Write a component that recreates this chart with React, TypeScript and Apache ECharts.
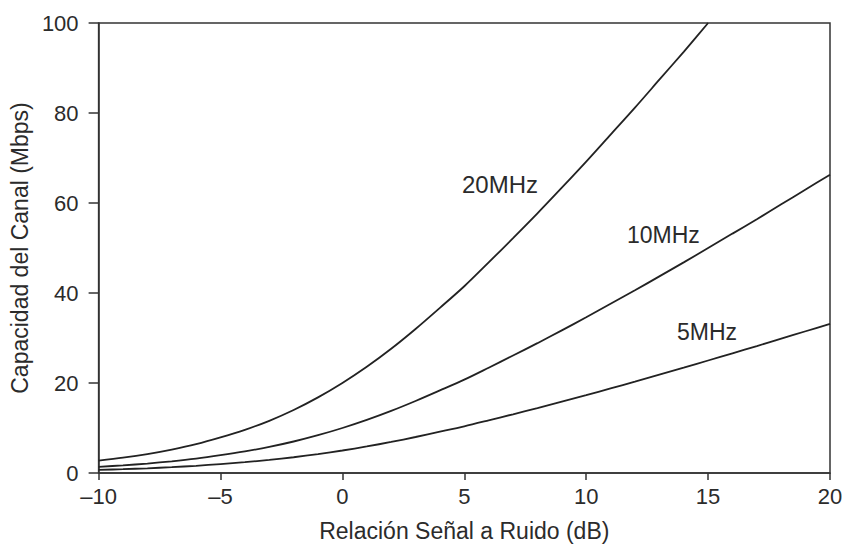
import React, { useEffect, useRef } from "react";
import * as echarts from "echarts";

const snr = [-10, -9, -8, -7, -6, -5, -4, -3, -2, -1, 0, 1, 2, 3, 4, 5, 6, 7, 8, 9, 10, 11, 12, 13, 14, 15, 16, 17, 18, 19, 20];
const cap20 = [2.75, 3.4, 4.2, 5.2, 6.4, 7.9, 9.6, 11.6, 14.0, 16.8, 20, 23.6, 27.6, 32.0, 36.7, 41.5, 46.8, 52.2, 57.7, 63.4, 69.2, 75.2, 81.2, 87.4, 93.6, 100];
const cap10 = [1.37, 1.7, 2.1, 2.6, 3.2, 3.95, 4.8, 5.8, 7.0, 8.4, 10, 11.8, 13.8, 16.0, 18.35, 20.75, 23.4, 26.1, 28.85, 31.7, 34.6, 37.6, 40.6, 43.7, 46.8, 50, 53.2, 56.4, 59.7, 63.0, 66.3];
const cap5 = [0.69, 0.85, 1.05, 1.3, 1.6, 1.98, 2.4, 2.9, 3.5, 4.2, 5, 5.9, 6.9, 8.0, 9.18, 10.38, 11.7, 13.05, 14.43, 15.85, 17.3, 18.8, 20.3, 21.85, 23.4, 25, 26.6, 28.2, 29.85, 31.5, 33.15];
const seriesLabels = ["20MHz", "10MHz", "5MHz"];

const FONT = "Liberation Sans, Arial, sans-serif";
const TXT = "#2b2b2b";
const FS = 22;
const FS_BIG = 23;

export default function App() {
  const ref = useRef<HTMLDivElement>(null);
  useEffect(() => {
    if (!ref.current) return;
    const chart = echarts.init(ref.current, null, { renderer: "svg" });
    const mk = (vals: number[]) => vals.map((v, i) => [snr[i], v]);
    const lineStyle = { color: "#222", width: 1.8 };
    chart.setOption({
      animation: false,
      backgroundColor: "#fff",
      grid: { left: 98, right: 16, top: 23, bottom: 72, show: true, borderColor: "#333", borderWidth: 1.5 },
      xAxis: {
        type: "value",
        min: -10,
        max: 20,
        interval: 5,
        name: "Relación Señal a Ruido (dB)",
        nameLocation: "middle",
        nameGap: 46,
        nameTextStyle: { fontFamily: FONT, fontSize: FS_BIG, color: TXT },
        axisLine: { show: true, onZero: false, lineStyle: { color: "#333", width: 1.5 } },
        axisTick: { show: true, inside: false, length: 7, lineStyle: { color: "#333", width: 1.5 } },
        axisLabel: {
          fontFamily: FONT, fontSize: FS, color: TXT, margin: 12,
          formatter: (v: number) => (v < 0 ? "\u2013" + Math.abs(v) : String(v)),
        },
        splitLine: { show: false },
      },
      yAxis: {
        type: "value",
        min: 0,
        max: 100,
        interval: 20,
        name: "Capacidad del Canal (Mbps)",
        nameLocation: "middle",
        nameGap: 62,
        nameTextStyle: { fontFamily: FONT, fontSize: FS_BIG, color: TXT },
        axisLine: { show: true, onZero: false, lineStyle: { color: "#333", width: 1.5 } },
        axisTick: { show: true, inside: false, length: 10, lineStyle: { color: "#333", width: 1.5 } },
        axisLabel: { fontFamily: FONT, fontSize: FS, color: TXT, margin: 20 },
        splitLine: { show: false },
      },
      series: [
        { type: "line", data: mk(cap20), smooth: 0.3, showSymbol: false, lineStyle, clip: true },
        { type: "line", data: mk(cap10), smooth: 0.3, showSymbol: false, lineStyle, clip: true },
        { type: "line", data: mk(cap5), smooth: 0.3, showSymbol: false, lineStyle, clip: true },
      ],
      graphic: [
        { type: "text", left: 462, top: 172, style: { text: seriesLabels[0], fontFamily: FONT, fontSize: FS_BIG + 1, fill: TXT } },
        { type: "text", left: 627, top: 223, style: { text: seriesLabels[1], fontFamily: FONT, fontSize: FS_BIG, fill: TXT } },
        { type: "text", left: 677, top: 320, style: { text: seriesLabels[2], fontFamily: FONT, fontSize: FS_BIG, fill: TXT } },
      ],
    });
    return () => chart.dispose();
  }, []);
  return <div ref={ref} style={{ width: 846, height: 547, position: "absolute", left: 0, top: 0 }} />;
}
